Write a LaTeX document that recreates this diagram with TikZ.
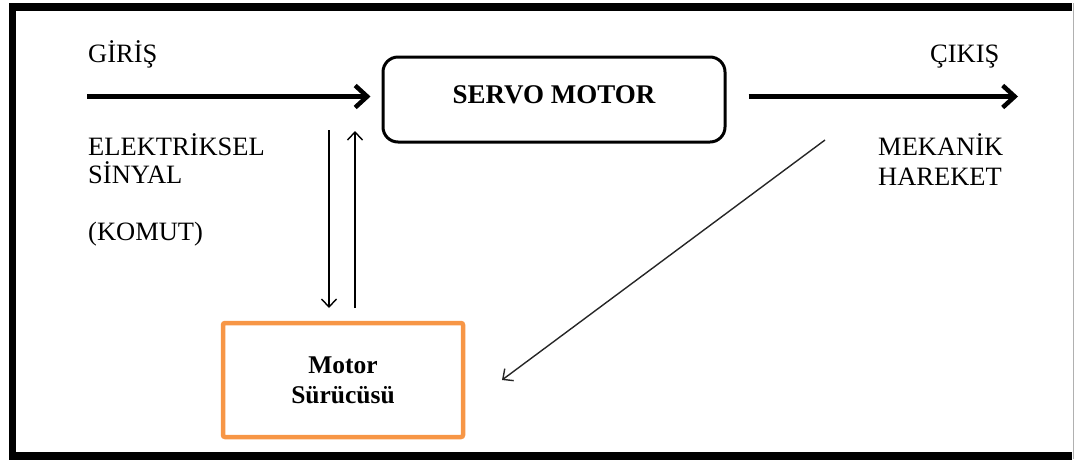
\documentclass[tikz,border=0pt]{standalone}
\usepackage{fontspec}
\setmainfont{Liberation Serif}
\usetikzlibrary{arrows.meta,calc}
\definecolor{drvorange}{HTML}{F79646}
\definecolor{framegray}{HTML}{B0B0B0}
\tikzset{
  lbl/.style={inner sep=0pt, anchor=base west, font=\fontsize{26.5}{29}\selectfont},
  bigarrow/.style={line width=4.5pt, -{Straight Barb[length=12pt,width=22pt]}},
  thinarrow/.style={line width=1.4pt, -{Straight Barb[length=8pt,width=15pt]}},
  servobox/.style={draw=black, line width=3pt, rounded corners=15pt, minimum width=342pt, minimum height=85pt, inner sep=0pt, text height=18pt, text depth=11pt, font=\bfseries\fontsize{27}{29}\selectfont},
  drvbox/.style={draw=drvorange, line width=4.5pt, rounded corners=2pt, minimum width=240pt, minimum height=114pt, align=center, inner sep=0pt, font=\bfseries\fontsize{25.5}{30}\selectfont}
}
\begin{document}
\begin{tikzpicture}[x=1pt,y=-1pt]
\useasboundingbox (0,0) rectangle (1075,459);
% frame
\draw[line width=7.5pt, black, line join=miter] (1072,7) -- (12.5,7) -- (12.5,456) -- (1072,456);
\draw[line width=1.5pt, framegray] (1073.5,3) -- (1073.5,459);

% nodes
\node[servobox] (servo) at (554,99.5) {SERVO MOTOR};
\node[drvbox] (driver) at (343,380) {Motor\\Sürücüsü};

% texts
\node[lbl] (giris) at (88,62) {GİRİŞ};
\node[lbl] (elek) at (88,155) {ELEKTRİKSEL};
\node[lbl] (sinyal) at (88,183) {SİNYAL};
\node[lbl] (komut) at (88,240) {(KOMUT)};
\node[lbl] (cikis) at (930,62) {ÇIKIŞ};
\node[lbl] (mek) at (878,155) {MEKANİK};
\node[lbl] (hareket) at (878,185) {HAREKET};

% coordinates
\coordinate (in) at (87,96.5);
\coordinate (out) at (1018,96.5);
\coordinate (dtop) at (329,130);
\coordinate (dbot) at (329,308);
\coordinate (ubot) at (355,308);
\coordinate (utop) at (355,131);
\coordinate (dstart) at (825,140);
\coordinate (dend) at (502,380);

% connectors
\draw[bigarrow, shorten >=11pt] (in) -- (servo.west |- in);
\draw[bigarrow, shorten <=22pt] (servo.east |- out) -- (out);
\draw[thinarrow] (dtop) -- (dbot);
\draw[thinarrow] (ubot) -- (utop);
\draw[thinarrow, black!85] (dstart) -- (dend);
\end{tikzpicture}
\end{document}
